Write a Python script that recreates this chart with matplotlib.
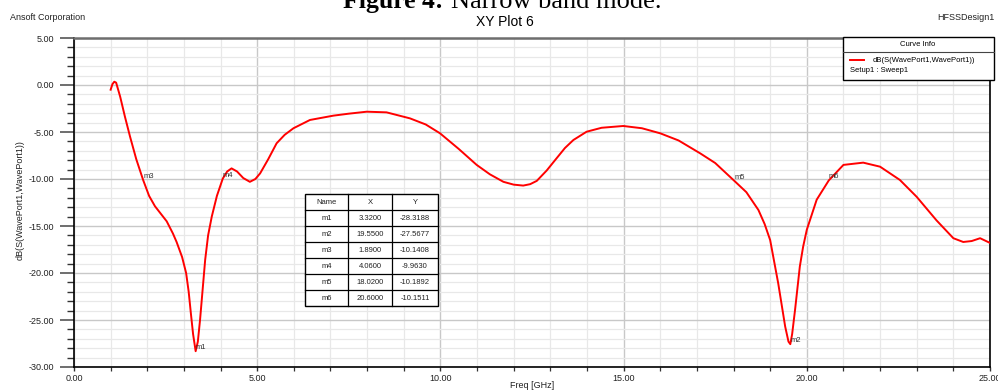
import matplotlib
matplotlib.use("Agg")
import matplotlib.pyplot as plt
from matplotlib.patches import Rectangle
from matplotlib.lines import Line2D
from matplotlib.ticker import MultipleLocator, FormatStrFormatter

W, H = 998, 390

# S11 sweep, frequency in GHz and return loss in dB
freq = [1.00, 1.05, 1.10, 1.15, 1.26, 1.39, 1.53, 1.70, 1.89, 2.05, 2.21, 2.35,
        2.53, 2.70, 2.80, 2.95, 3.06, 3.13, 3.19, 3.25, 3.32, 3.38, 3.44, 3.51,
        3.58, 3.66, 3.76, 3.90, 4.06, 4.18, 4.30, 4.45, 4.62, 4.80, 4.95, 5.08,
        5.30, 5.53, 5.75, 5.99, 6.44, 7.08, 7.50, 7.99, 8.53, 9.17, 9.60, 9.99,
        10.50, 10.99, 11.35, 11.72, 12.00, 12.26, 12.45, 12.63, 12.90, 13.17,
        13.40, 13.63, 13.99, 14.40, 14.99, 15.50, 16.00, 16.50, 17.09, 17.50,
        18.02, 18.35, 18.68, 18.85, 19.00, 19.22, 19.41, 19.50, 19.55, 19.60,
        19.68, 19.81, 19.90, 20.00, 20.27, 20.60, 21.00, 21.54, 22.00, 22.54,
        23.00, 23.54, 24.00, 24.27, 24.50, 24.73, 25.00]
s11_db = [-0.50, 0.10, 0.35, 0.25, -1.24, -3.37, -5.50, -7.90, -10.14, -11.80,
          -12.90, -13.60, -14.50, -15.80, -16.70, -18.30, -20.00, -22.00, -24.30,
          -26.50, -28.32, -27.30, -25.00, -21.80, -18.60, -16.00, -14.00, -11.80,
          -9.96, -9.20, -8.87, -9.20, -9.90, -10.30, -10.00, -9.40, -7.90, -6.20,
          -5.30, -4.60, -3.72, -3.26, -3.05, -2.84, -2.91, -3.55, -4.20, -5.14,
          -6.80, -8.50, -9.50, -10.30, -10.60, -10.70, -10.55, -10.20, -9.10,
          -7.80, -6.70, -5.85, -4.97, -4.55, -4.36, -4.60, -5.14, -5.90, -7.27,
          -8.30, -10.19, -11.40, -13.30, -14.80, -16.50, -21.10, -25.70, -27.30,
          -27.57, -26.50, -23.90, -19.30, -17.20, -15.40, -12.20, -10.15, -8.50,
          -8.26, -8.69, -10.10, -11.90, -14.40, -16.30, -16.70, -16.60, -16.30,
          -16.80]

# Marker table
marker_names = ["m1", "m2", "m3", "m4", "m5", "m6"]
marker_x = [3.3200, 19.5500, 1.8900, 4.0600, 18.0200, 20.6000]
marker_y = [-28.3188, -27.5677, -10.1408, -9.9630, -10.1892, -10.1511]

x_ticks = [0, 5, 10, 15, 20, 25]
y_ticks = [5, 0, -5, -10, -15, -20, -25, -30]

FONT = ["Liberation Sans", "DejaVu Sans"]
plt.rcParams["font.family"] = FONT

fig = plt.figure(figsize=(W / 100, H / 100), dpi=100)


def fx(px):
    return px / W


def fy(py):
    return 1 - py / H


ax = fig.add_axes([fx(74), fy(367), fx(990) - fx(74), fy(38) - fy(367)])
ax.set_xlim(0, 25)
ax.set_ylim(-30, 5)

ax.xaxis.set_minor_locator(MultipleLocator(1))
ax.yaxis.set_minor_locator(MultipleLocator(1))
ax.set_xticks(x_ticks)
ax.set_yticks(y_ticks)
ax.xaxis.set_major_formatter(FormatStrFormatter("%.2f"))
ax.yaxis.set_major_formatter(FormatStrFormatter("%.2f"))

ax.grid(which="major", color="#c8c8c8", lw=1.0, zorder=0)
ax.grid(which="minor", color="#e8e8e8", lw=0.9, zorder=0)
ax.set_axisbelow(True)

ax.tick_params(axis="y", which="major", length=10, width=1.4, color="#6e6e6e",
               pad=4, labelsize=6.5, labelcolor="#222222")
ax.tick_params(axis="y", which="minor", length=5, width=1.0, color="#333333")
ax.tick_params(axis="x", which="major", length=3, width=1.0, color="#333333",
               pad=2, labelsize=6.5, labelcolor="#222222")
ax.tick_params(axis="x", which="minor", length=3, width=0.9, color="#333333")

for side in ["left", "bottom", "right"]:
    ax.spines[side].set_color("black")
    ax.spines[side].set_linewidth(1.2)
ax.spines["top"].set_color("#6e6e6e")
ax.spines["top"].set_linewidth(1.8)

ax.plot(freq, s11_db, color="#ff0000", lw=1.4, zorder=3)

for name, mx, my in zip(marker_names, marker_x, marker_y):
    ax.text(mx, my, name, fontsize=5.5, color="#333333", ha="left", va="bottom",
            zorder=4)

fig.text(fx(532), fy(385), "Freq [GHz]", ha="center", va="center",
         fontsize=6.5, color="#222222")
fig.text(fx(20), fy(200), "dB(S(WavePort1,WavePort1))", rotation=90,
         ha="center", va="center", fontsize=6.5, color="#222222")

# Header texts
fig.text(fx(505), fy(22), "XY Plot 6", ha="center", va="center", fontsize=10)
fig.text(fx(10), fy(18), "Ansoft Corporation", ha="left", va="center",
         fontsize=6.5, color="#222222")
fig.text(fx(994), fy(17), "HFSSDesign1", ha="right", va="center",
         fontsize=6.5, color="#222222")
fig.text(fx(343), fy(8), "Figure 4:", ha="left", va="baseline",
         fontsize=18.5, fontweight="bold", family="Liberation Serif")
fig.text(fx(451), fy(8), "Narrow band mode.", ha="left", va="baseline",
         fontsize=19, family="Liberation Serif")

# Curve info box
fig.add_artist(Rectangle((fx(843), fy(80)), fx(994) - fx(843), fy(37) - fy(80),
                         transform=fig.transFigure, facecolor="white",
                         edgecolor="black", lw=1.0, zorder=10))
fig.add_artist(Line2D([fx(843), fx(994)], [fy(52), fy(52)],
                      transform=fig.transFigure, color="#444444", lw=0.8,
                      zorder=11))
fig.text(fx(918), fy(44), "Curve Info", ha="center", va="center", fontsize=5.5,
         zorder=12)
fig.add_artist(Line2D([fx(850), fx(864)], [fy(60), fy(60)],
                      transform=fig.transFigure, color="#ff0000", lw=1.4,
                      zorder=11))
fig.text(fx(873), fy(60), "dB(S(WavePort1,WavePort1))", ha="left",
         va="center", fontsize=5.5, zorder=12)
fig.text(fx(850), fy(71), "Setup1 : Sweep1", ha="left", va="center",
         fontsize=5.5, zorder=12)

# Marker table
col_edges = [305, 348, 392, 438]
row_top, row_h = 194, 16
n_rows = len(marker_names) + 1
fig.add_artist(Rectangle((fx(col_edges[0]), fy(row_top + n_rows * row_h)),
                         fx(col_edges[-1]) - fx(col_edges[0]),
                         fy(row_top) - fy(row_top + n_rows * row_h),
                         transform=fig.transFigure, facecolor="white",
                         edgecolor="black", lw=1.0, zorder=10))
for i in range(1, n_rows):
    yy = fy(row_top + i * row_h)
    fig.add_artist(Line2D([fx(col_edges[0]), fx(col_edges[-1])], [yy, yy],
                          transform=fig.transFigure, color="black", lw=0.9,
                          zorder=11))
for c in col_edges[1:-1]:
    fig.add_artist(Line2D([fx(c), fx(c)],
                          [fy(row_top), fy(row_top + n_rows * row_h)],
                          transform=fig.transFigure, color="black", lw=0.9,
                          zorder=11))
rows = [["Name", "X", "Y"]] + [
    [n, f"{x:.4f}", f"{y:.4f}"]
    for n, x, y in zip(marker_names, marker_x, marker_y)]
for r, row in enumerate(rows):
    cy = fy(row_top + (r + 0.5) * row_h)
    for c, val in enumerate(row):
        cx = fx((col_edges[c] + col_edges[c + 1]) / 2)
        fig.text(cx, cy, val, ha="center", va="center", fontsize=5.5,
                 color="#222222", zorder=12)

fig.savefig("out.png", dpi=100)
